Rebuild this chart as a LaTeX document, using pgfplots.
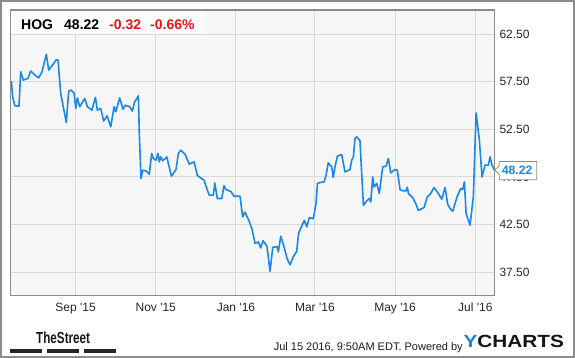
\documentclass[border=0pt]{standalone}
\usepackage{fontspec}
\setmainfont{Liberation Sans}
\usepackage{graphicx}
\usepackage{pgfplots}
\pgfplotsset{compat=1.18}
\definecolor{lineblue}{RGB}{26,136,230}
\definecolor{ycblue}{RGB}{24,132,226}
\definecolor{plotbg}{HTML}{F6F6F6}
\definecolor{gridc}{HTML}{D9D9D9}
\definecolor{framec}{HTML}{8C8C8C}
\definecolor{hdrbg}{HTML}{FBFBFB}
\definecolor{redc}{RGB}{235,20,20}
\begin{document}
\begin{tikzpicture}
\useasboundingbox (0pt,0pt) rectangle (575pt,358pt);
\draw[framec, line width=1.6pt] (0.9pt,0.9pt) rectangle (574.1pt,357.1pt);
\begin{axis}[
  at={(10.3pt,62.7pt)}, anchor=south west,
  scale only axis, width=484.2pt, height=285.3pt,
  xmin=-49.6, xmax=318.6, ymin=35.05, ymax=65.06,
  axis background/.style={fill=plotbg},
  axis line style={framec, line width=1.1pt},
  grid=major, major grid style={gridc, line width=1pt},
  major tick length=0pt,
  xtick={0,61,122,182,243,304},
  xticklabels={Sep \textquotesingle15, Nov \textquotesingle15, Jan \textquotesingle16, Mar \textquotesingle16, May \textquotesingle16, Jul \textquotesingle16},
  ytick={37.5,42.5,47.5,52.5,57.5,62.5},
  yticklabel pos=right,
  /pgf/number format/assume math mode=true,
  yticklabel={\pgfmathprintnumber[fixed,fixed zerofill,precision=2]{\tick}},
  xticklabel style={inner sep=0pt, anchor=north, yshift=-7.4pt, font=\fontsize{12}{14}\selectfont, text=black!85},
  yticklabel style={inner sep=0pt, anchor=west, xshift=4.8pt, font=\fontsize{12}{14}\selectfont, text=black!85},
  clip=false,
]
\addplot[lineblue, line width=1.6pt, line join=round, mark=none] coordinates {
(-48.8,57.58) (-47.8,55.93) (-46.2,54.98) (-43.0,54.95) (-41.7,58.56) (-39.7,57.69)
(-36.1,57.87) (-34.1,58.64) (-31.0,58.21) (-28.0,57.93) (-25.5,58.56) (-22.2,60.39)
(-20.4,58.74) (-17.1,59.34) (-14.6,59.83) (-13.3,59.79) (-11.3,56.29) (-7.0,53.23)
(-5.2,56.53) (-3.2,56.63) (-1.1,56.29) (0.2,54.71) (1.4,55.82) (3.2,54.88)
(7.0,55.76) (9.0,54.88) (12.5,54.53) (15.1,55.87) (16.6,54.53) (19.2,54.71)
(21.4,53.37) (24.0,53.93) (26.8,52.77) (29.3,54.88) (30.6,54.35) (33.6,55.82)
(36.1,54.63) (37.9,55.05) (41.2,54.88) (43.2,54.42) (44.9,55.37) (47.8,56.03)
(48.5,52.07) (49.8,47.34) (51.1,48.21) (53.6,48.14) (56.1,47.79) (57.9,49.97)
(59.2,49.44) (61.2,49.26) (62.7,49.97) (63.7,49.08) (64.8,49.61) (66.3,49.19)
(69.4,49.61) (72.9,47.58) (76.4,48.28) (78.2,49.97) (80.0,50.32) (83.3,49.89)
(86.5,48.84) (90.1,49.08) (92.6,47.68) (94.7,47.44) (97.7,47.16) (99.8,46.28)
(101.7,45.58) (104.8,45.58) (105.9,46.87) (107.8,45.23) (111.2,45.23) (112.9,46.58)
(114.4,46.18) (118.3,45.95) (120.5,45.47) (125.1,45.47) (127.1,43.29) (128.9,43.79)
(131.7,42.94) (134.2,42.00) (136.5,40.52) (139.0,40.66) (140.8,40.03) (142.6,40.79)
(145.6,40.21) (147.9,37.57) (150.0,40.10) (153.2,40.17) (154.2,39.61) (156.1,41.26)
(158.6,40.13) (160.8,38.94) (163.1,38.26) (165.6,39.10) (168.2,39.68) (169.6,41.58)
(174.0,42.94) (175.8,42.24) (177.8,43.23) (180.8,43.12) (182.9,44.70) (184.0,46.84)
(187.5,46.95) (189.0,46.98) (190.5,47.68) (192.2,48.98) (194.8,48.56) (196.0,47.44)
(197.3,48.56) (199.1,49.68) (202.4,49.86) (204.9,48.03) (208.7,48.28) (210.0,49.26)
(211.3,49.61) (212.5,51.55) (213.8,51.72) (216.3,51.30) (218.9,44.52) (221.4,44.98)
(223.4,45.23) (224.5,44.87) (226.0,47.50) (227.0,46.45) (229.0,46.81) (231.0,45.76)
(233.6,48.56) (236.1,48.63) (237.9,49.44) (239.7,47.93) (243.0,48.28) (244.7,48.21)
(246.8,46.16) (249.0,46.03) (251.3,46.03) (252.3,46.42) (253.2,45.74) (256.4,45.33)
(258.9,44.63) (260.7,43.97) (265.0,44.28) (267.5,45.40) (270.1,45.76) (272.6,46.39)
(275.9,45.76) (278.5,45.16) (281.0,46.39) (283.0,44.63) (284.8,44.18) (286.8,43.89)
(290.3,45.47) (292.9,46.28) (294.4,46.18) (295.7,46.98) (297.0,43.65) (300.0,42.42)
(302.5,45.40) (304.6,54.24) (307.1,51.37) (309.1,47.50) (311.4,48.74) (313.9,48.74)
(315.2,49.61) (316.7,48.74) (318.6,48.22)
};
% last-value callout
\coordinate (lv) at (axis cs:318.6,48.22);
\draw[framec, fill=white, line width=0.8pt]
  ([xshift=0.3pt]lv) -- ([xshift=4.8pt,yshift=4.5pt]lv) -- ([xshift=4.8pt,yshift=8.6pt]lv)
  -- ([xshift=42.2pt,yshift=8.6pt]lv) -- ([xshift=42.2pt,yshift=-9.7pt]lv)
  -- ([xshift=4.8pt,yshift=-9.7pt]lv) -- ([xshift=4.8pt,yshift=-4.5pt]lv) -- cycle;
\node[anchor=west, inner sep=0pt, text=lineblue, font=\fontsize{12.2}{14}\selectfont\bfseries]
  at ([xshift=7.2pt,yshift=-0.4pt]lv) {48.22};
\end{axis}
% header box
\fill[hdrbg] (11pt,324.3pt) rectangle (205pt,347.4pt);
\begin{scope}[every node/.style={anchor=base west, inner sep=0pt, font=\fontsize{14}{16}\selectfont\bfseries}]
\node at (21pt,328.7pt) {HOG};
\node at (64pt,328.7pt) {48.22};
\node[text=redc] at (109pt,328.7pt) {-0.32};
\node[text=redc] at (150pt,328.7pt) {-0.66\%};
\end{scope}
% footer
\node[anchor=base west, inner sep=0pt, font=\fontsize{16}{18}\selectfont\bfseries, text=black!90]
  at (36pt,14.7pt) {\scalebox{0.73}[1]{TheStreet}};
\fill[black!85] (10.3pt,4.6pt) rectangle (42pt,8.8pt);
\fill[black!85] (47pt,4.6pt) rectangle (79pt,8.8pt);
\fill[black!85] (84pt,4.6pt) rectangle (116pt,8.8pt);
\node[anchor=base west, inner sep=0pt, font=\fontsize{11}{13}\selectfont, text=black!90]
  at (273.6pt,7.5pt) {Jul 15 2016, 9:50AM EDT. Powered by};
\node[anchor=base west, inner sep=0pt, font=\fontsize{17.6}{20}\selectfont\bfseries]
  at (463.3pt,10.7pt) {\scalebox{1.18}[1]{\textcolor{ycblue}{Y}\textcolor{black!92}{CHARTS}}};
\end{tikzpicture}
\end{document}
